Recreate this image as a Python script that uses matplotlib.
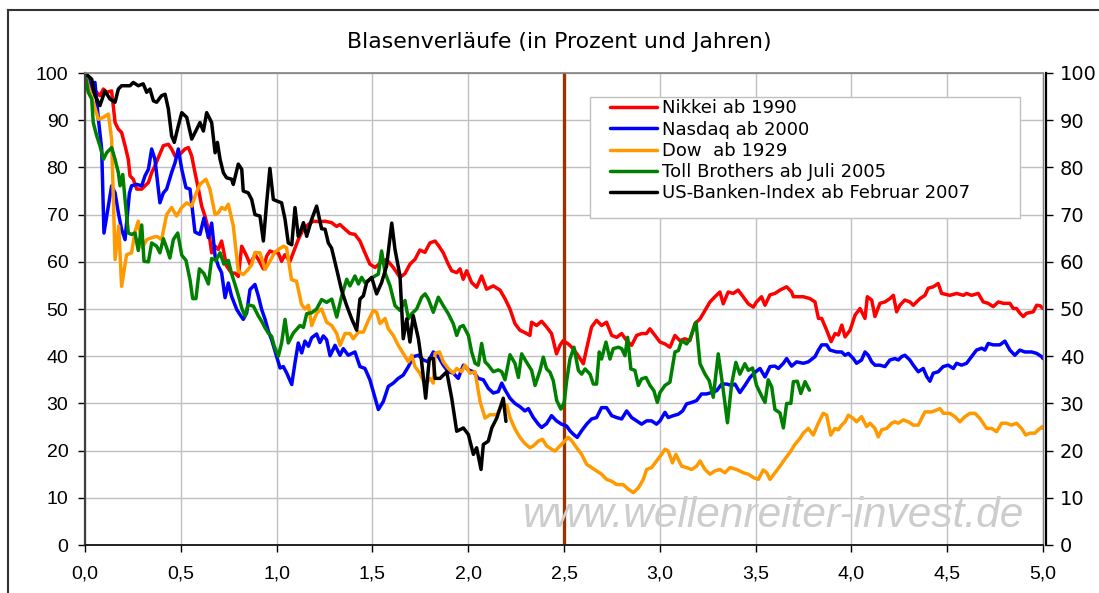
import matplotlib
matplotlib.use("Agg")
import matplotlib.pyplot as plt
from matplotlib.patches import Rectangle
from matplotlib.lines import Line2D
from matplotlib.ticker import FuncFormatter

# ---------------- data (years since peak, percent of peak) ----------------
nikkei_x = [0.000, 0.026, 0.061, 0.078, 0.096, 0.113, 0.139, 0.157, 0.174, 0.191, 0.209, 0.226, 0.235, 0.252, 0.270,
            0.296, 0.313, 0.331, 0.348, 0.365, 0.383, 0.409, 0.435, 0.452, 0.470, 0.496, 0.522, 0.540, 0.557, 0.574,
            0.592, 0.609, 0.626, 0.644, 0.661, 0.679, 0.696, 0.713, 0.739, 0.765, 0.783, 0.800, 0.818, 0.844, 0.861,
            0.887, 0.905, 0.931, 0.948, 0.965, 0.983, 1.009, 1.026, 1.043, 1.070, 1.087, 1.113, 1.139, 1.165, 1.192,
            1.226, 1.252, 1.287, 1.313, 1.331, 1.357, 1.383, 1.409, 1.435, 1.461, 1.487, 1.514, 1.548, 1.574, 1.609,
            1.644, 1.670, 1.696, 1.722, 1.748, 1.774, 1.800, 1.827, 1.844, 1.870, 1.896, 1.914, 1.940, 1.957, 1.974,
            1.992, 2.018, 2.044, 2.070, 2.096, 2.131, 2.166, 2.192, 2.218, 2.244, 2.270, 2.296, 2.322, 2.331, 2.357,
            2.383, 2.409, 2.435, 2.461, 2.479, 2.496, 2.522, 2.548, 2.574, 2.601, 2.618, 2.644, 2.670, 2.696, 2.722,
            2.749, 2.775, 2.801, 2.827, 2.853, 2.879, 2.905, 2.931, 2.948, 2.975, 3.001, 3.027, 3.053, 3.079, 3.105,
            3.131, 3.157, 3.183, 3.210, 3.236, 3.262, 3.288, 3.314, 3.331, 3.357, 3.383, 3.409, 3.435, 3.462, 3.488,
            3.505, 3.531, 3.549, 3.575, 3.601, 3.627, 3.662, 3.688, 3.697, 3.749, 3.784, 3.810, 3.828, 3.845, 3.871,
            3.894, 3.915, 3.932, 3.950, 3.967, 3.993, 4.019, 4.045, 4.071, 4.083, 4.106, 4.123, 4.149, 4.175, 4.201,
            4.219, 4.236, 4.253, 4.279, 4.305, 4.323, 4.358, 4.384, 4.401, 4.427, 4.453, 4.471, 4.514, 4.549, 4.584,
            4.601, 4.627, 4.662, 4.688, 4.714, 4.740, 4.767, 4.793, 4.827, 4.845, 4.862, 4.880, 4.897, 4.914, 4.949,
            4.967, 4.984, 5.000]
nikkei_y = [100.0, 97.3, 95.9, 95.2, 96.6, 95.9, 96.2, 89.5, 88.1, 87.4, 84.6, 81.7, 78.2, 77.5, 75.4,
            75.4, 76.1, 76.8, 78.9, 80.3, 82.1, 84.6, 84.9, 83.9, 82.4, 82.8, 83.9, 84.2, 82.4, 78.9,
            75.4, 71.8, 69.7, 66.9, 61.9, 63.3, 62.6, 64.4, 59.1, 57.6, 57.6, 56.9, 63.3, 61.2, 59.5,
            61.5, 60.5, 58.5, 61.2, 62.3, 62.0, 61.9, 60.1, 61.5, 60.1, 61.9, 64.7, 66.9, 67.9, 68.6,
            68.5, 68.6, 68.3, 67.5, 67.9, 66.9, 66.0, 65.8, 64.4, 61.9, 59.5, 58.8, 60.0, 60.5, 58.8,
            56.7, 57.5, 59.5, 60.5, 62.5, 62.0, 64.0, 64.4, 63.5, 61.9, 59.5, 58.1, 57.7, 58.5, 56.3,
            58.1, 55.6, 54.6, 57.0, 54.2, 54.9, 54.0, 52.2, 50.0, 46.9, 45.5, 45.0, 44.4, 47.2, 46.5,
            47.4, 46.2, 44.8, 40.5, 42.3, 43.3, 42.6, 41.6, 40.1, 38.4, 41.6, 46.2, 47.6, 46.5, 47.2,
            44.4, 44.0, 44.8, 43.3, 42.3, 44.4, 44.8, 44.8, 45.8, 44.4, 43.0, 42.6, 41.9, 44.4, 43.3,
            43.7, 43.3, 46.9, 47.9, 49.7, 51.5, 52.6, 53.6, 51.1, 53.6, 53.3, 54.0, 52.6, 51.1, 50.4,
            51.5, 52.6, 50.8, 53.0, 53.3, 54.0, 54.7, 53.6, 52.6, 52.6, 52.2, 51.5, 48.0, 48.0, 45.5,
            43.1, 44.8, 44.5, 46.6, 44.1, 45.5, 48.7, 50.1, 48.0, 52.6, 51.9, 48.4, 51.2, 51.5, 52.2,
            52.9, 49.4, 50.8, 51.9, 51.5, 50.8, 52.2, 52.9, 54.4, 54.7, 55.4, 53.3, 52.9, 53.3, 52.9,
            53.3, 52.9, 53.3, 51.5, 51.2, 50.5, 51.5, 51.2, 51.2, 50.1, 50.1, 49.1, 48.4, 49.1, 49.4,
            50.8, 50.7, 50.1]

nasdaq_x = [0.000, 0.017, 0.035, 0.052, 0.070, 0.087, 0.099, 0.122, 0.139, 0.157, 0.174, 0.191, 0.209, 0.232, 0.243,
            0.270, 0.296, 0.313, 0.331, 0.348, 0.365, 0.391, 0.409, 0.426, 0.452, 0.470, 0.487, 0.505, 0.527, 0.548,
            0.574, 0.600, 0.621, 0.644, 0.661, 0.679, 0.696, 0.713, 0.731, 0.748, 0.765, 0.792, 0.809, 0.826, 0.844,
            0.861, 0.887, 0.905, 0.922, 0.940, 0.957, 0.974, 1.000, 1.018, 1.035, 1.052, 1.079, 1.096, 1.113, 1.131,
            1.148, 1.166, 1.183, 1.209, 1.226, 1.244, 1.261, 1.279, 1.305, 1.331, 1.348, 1.374, 1.409, 1.435, 1.461,
            1.487, 1.514, 1.531, 1.557, 1.583, 1.609, 1.635, 1.661, 1.688, 1.713, 1.740, 1.766, 1.792, 1.818, 1.844,
            1.870, 1.896, 1.922, 1.948, 1.975, 2.001, 2.027, 2.053, 2.079, 2.105, 2.131, 2.157, 2.175, 2.192, 2.218,
            2.244, 2.270, 2.296, 2.314, 2.340, 2.366, 2.383, 2.409, 2.435, 2.461, 2.487, 2.514, 2.531, 2.548, 2.569,
            2.592, 2.618, 2.644, 2.670, 2.696, 2.722, 2.749, 2.775, 2.801, 2.827, 2.853, 2.879, 2.905, 2.931, 2.957,
            2.983, 3.001, 3.027, 3.044, 3.070, 3.096, 3.119, 3.140, 3.166, 3.192, 3.218, 3.244, 3.270, 3.297, 3.323,
            3.349, 3.375, 3.392, 3.418, 3.444, 3.471, 3.497, 3.523, 3.549, 3.575, 3.601, 3.619, 3.645, 3.662, 3.688,
            3.714, 3.749, 3.775, 3.810, 3.828, 3.845, 3.871, 3.888, 3.923, 3.949, 3.967, 3.984, 4.010, 4.027, 4.053,
            4.071, 4.088, 4.106, 4.123, 4.149, 4.175, 4.201, 4.227, 4.245, 4.262, 4.279, 4.305, 4.323, 4.349, 4.375,
            4.393, 4.410, 4.427, 4.453, 4.479, 4.505, 4.532, 4.549, 4.575, 4.601, 4.627, 4.653, 4.680, 4.697, 4.714,
            4.740, 4.775, 4.801, 4.827, 4.853, 4.879, 4.905, 4.940, 4.967, 4.993, 5.000]
nasdaq_y = [100.0, 98.7, 95.9, 98.0, 90.2, 83.9, 66.1, 71.8, 76.1, 74.6, 70.4, 66.9, 64.7, 74.6, 76.1,
            76.4, 76.1, 78.2, 79.6, 83.9, 81.7, 72.5, 74.6, 75.4, 78.9, 81.0, 83.9, 79.6, 75.7, 75.4,
            66.3, 65.8, 69.3, 65.1, 68.2, 61.2, 59.1, 57.7, 52.4, 55.5, 52.7, 49.9, 48.8, 47.8, 49.2,
            54.1, 55.2, 52.7, 49.9, 47.8, 45.3, 43.5, 40.0, 37.5, 37.8, 36.5, 34.0, 38.6, 42.8, 40.7,
            43.2, 42.1, 43.9, 44.7, 42.9, 44.3, 43.5, 40.1, 42.3, 40.2, 41.6, 40.2, 40.9, 37.8, 37.4,
            35.0, 31.1, 28.7, 30.4, 33.6, 34.3, 35.3, 36.0, 37.8, 39.9, 40.2, 39.2, 38.8, 40.9, 39.9,
            38.1, 36.7, 36.4, 35.3, 38.1, 37.1, 36.7, 35.3, 35.0, 33.2, 32.2, 32.5, 34.3, 32.9, 31.1,
            30.0, 29.3, 28.4, 28.9, 27.0, 25.6, 24.9, 25.7, 27.4, 26.3, 25.6, 25.2, 24.2, 23.5, 22.8,
            24.2, 25.6, 26.7, 27.0, 29.1, 29.1, 27.4, 27.0, 26.7, 28.4, 27.0, 26.3, 25.6, 26.3, 26.3,
            25.6, 26.3, 28.1, 27.0, 27.4, 27.7, 28.4, 29.9, 30.2, 30.6, 32.0, 32.0, 32.3, 32.7, 34.1,
            34.1, 33.8, 34.1, 32.3, 33.8, 35.5, 36.6, 37.4, 35.6, 37.8, 37.9, 37.4, 38.5, 39.5, 37.9,
            38.8, 38.5, 38.8, 39.9, 41.3, 42.4, 42.4, 41.3, 40.9, 40.9, 40.2, 40.6, 39.5, 38.5, 39.2,
            40.9, 40.2, 38.8, 38.1, 38.1, 37.8, 39.2, 39.5, 39.2, 39.9, 40.2, 39.2, 38.1, 36.7, 37.4,
            35.7, 34.7, 36.4, 36.7, 37.8, 38.1, 37.4, 38.5, 38.1, 38.5, 39.9, 41.3, 41.7, 41.3, 42.7,
            42.4, 42.4, 43.2, 41.3, 40.2, 41.3, 40.9, 40.9, 40.6, 39.9, 39.5]

dow_x = [0.000, 0.017, 0.043, 0.070, 0.096, 0.122, 0.139, 0.157, 0.176, 0.191, 0.217, 0.243, 0.261, 0.278, 0.300,
         0.322, 0.348, 0.374, 0.400, 0.426, 0.452, 0.478, 0.505, 0.531, 0.557, 0.574, 0.600, 0.631, 0.652, 0.679,
         0.696, 0.713, 0.731, 0.748, 0.774, 0.800, 0.826, 0.852, 0.870, 0.887, 0.913, 0.940, 0.965, 0.990, 1.009,
         1.035, 1.052, 1.078, 1.104, 1.130, 1.148, 1.166, 1.183, 1.209, 1.235, 1.261, 1.288, 1.314, 1.331, 1.357,
         1.383, 1.400, 1.427, 1.453, 1.479, 1.505, 1.522, 1.540, 1.566, 1.583, 1.609, 1.635, 1.661, 1.688, 1.705,
         1.722, 1.748, 1.775, 1.801, 1.818, 1.827, 1.850, 1.870, 1.896, 1.922, 1.940, 1.966, 1.983, 2.009, 2.036,
         2.062, 2.088, 2.114, 2.149, 2.175, 2.201, 2.218, 2.244, 2.270, 2.296, 2.322, 2.340, 2.366, 2.388, 2.409,
         2.435, 2.453, 2.479, 2.496, 2.522, 2.540, 2.566, 2.592, 2.618, 2.644, 2.670, 2.696, 2.722, 2.749, 2.775,
         2.809, 2.836, 2.862, 2.888, 2.914, 2.931, 2.957, 2.983, 3.009, 3.027, 3.044, 3.066, 3.084, 3.114, 3.140,
         3.166, 3.192, 3.210, 3.236, 3.262, 3.288, 3.314, 3.340, 3.366, 3.401, 3.436, 3.462, 3.488, 3.514, 3.540,
         3.558, 3.575, 3.601, 3.627, 3.653, 3.679, 3.705, 3.730, 3.749, 3.775, 3.801, 3.827, 3.853, 3.871, 3.892,
         3.914, 3.932, 3.949, 3.967, 3.984, 4.010, 4.027, 4.053, 4.079, 4.097, 4.123, 4.140, 4.158, 4.184, 4.210,
         4.227, 4.245, 4.271, 4.297, 4.323, 4.349, 4.366, 4.384, 4.419, 4.445, 4.462, 4.480, 4.514, 4.540, 4.566,
         4.593, 4.619, 4.645, 4.671, 4.688, 4.706, 4.732, 4.758, 4.784, 4.810, 4.836, 4.862, 4.888, 4.910, 4.932,
         4.958, 4.975, 4.997, 5.000]
dow_y = [100.0, 97.3, 93.8, 90.2, 90.6, 91.3, 86.0, 60.5, 67.6, 54.8, 61.5, 61.9, 66.4, 68.6, 63.0,
         64.7, 65.1, 65.4, 64.7, 70.0, 71.5, 69.7, 71.5, 72.5, 71.8, 73.9, 76.4, 77.5, 75.4, 70.0,
         70.4, 71.5, 71.1, 72.2, 67.6, 58.0, 57.3, 58.4, 59.4, 62.0, 61.9, 58.4, 60.1, 62.0, 62.6,
         63.3, 63.0, 56.2, 55.9, 51.0, 50.0, 50.8, 46.5, 49.1, 50.0, 47.2, 46.5, 44.8, 42.3, 44.8,
         44.8, 43.7, 45.1, 45.1, 47.6, 49.7, 49.3, 46.9, 48.0, 45.8, 44.4, 42.3, 40.6, 38.8, 40.2,
         37.8, 36.4, 33.9, 35.3, 34.3, 40.6, 40.9, 38.8, 37.4, 36.4, 37.4, 36.7, 38.1, 36.4, 36.7,
         30.4, 26.9, 27.6, 27.6, 29.5, 29.7, 27.0, 24.6, 22.8, 21.5, 20.6, 21.0, 22.0, 22.4, 21.0,
         20.3, 19.9, 21.0, 21.7, 22.8, 22.1, 20.6, 19.2, 17.1, 16.4, 15.7, 15.0, 13.9, 13.5, 12.8,
         12.8, 11.8, 11.1, 12.1, 13.9, 16.0, 16.4, 17.8, 19.2, 20.3, 19.9, 17.4, 19.2, 16.7, 16.4,
         16.0, 16.7, 17.8, 16.0, 15.0, 15.7, 16.0, 15.3, 16.4, 16.0, 15.3, 15.0, 14.3, 13.9, 15.9,
         15.3, 13.9, 15.3, 16.7, 18.2, 19.6, 21.3, 22.5, 23.7, 24.7, 23.3, 25.8, 27.9, 27.5, 23.3,
         24.7, 24.4, 25.4, 26.1, 27.5, 26.8, 26.1, 27.2, 25.1, 25.8, 24.7, 22.9, 24.4, 24.7, 25.8,
         26.1, 25.8, 26.5, 26.1, 25.4, 25.4, 26.8, 28.2, 28.2, 28.6, 28.9, 27.9, 27.9, 27.2, 26.1,
         27.2, 27.9, 27.9, 26.8, 25.8, 24.7, 24.7, 24.0, 25.8, 25.8, 25.4, 25.8, 24.7, 23.3, 23.7,
         23.7, 24.4, 25.1, 24.7]

toll_x = [0.000, 0.017, 0.035, 0.043, 0.061, 0.078, 0.096, 0.113, 0.139, 0.157, 0.174, 0.183, 0.197, 0.209, 0.226,
          0.243, 0.261, 0.278, 0.296, 0.308, 0.331, 0.348, 0.374, 0.391, 0.409, 0.426, 0.443, 0.461, 0.484, 0.505,
          0.527, 0.548, 0.562, 0.579, 0.597, 0.621, 0.644, 0.661, 0.683, 0.705, 0.725, 0.748, 0.765, 0.783, 0.800,
          0.818, 0.835, 0.852, 0.879, 0.905, 0.922, 0.940, 0.957, 0.974, 0.988, 1.009, 1.026, 1.044, 1.061, 1.087,
          1.122, 1.140, 1.157, 1.183, 1.209, 1.235, 1.261, 1.288, 1.314, 1.340, 1.366, 1.383, 1.409, 1.427, 1.444,
          1.461, 1.487, 1.514, 1.531, 1.548, 1.566, 1.592, 1.618, 1.644, 1.670, 1.688, 1.705, 1.731, 1.757, 1.775,
          1.792, 1.818, 1.844, 1.870, 1.896, 1.922, 1.940, 1.957, 1.974, 2.001, 2.018, 2.036, 2.053, 2.070, 2.088,
          2.105, 2.131, 2.157, 2.175, 2.192, 2.218, 2.244, 2.262, 2.279, 2.305, 2.331, 2.349, 2.375, 2.392, 2.409,
          2.427, 2.444, 2.462, 2.484, 2.501, 2.514, 2.531, 2.552, 2.575, 2.592, 2.610, 2.636, 2.653, 2.670, 2.684,
          2.696, 2.719, 2.740, 2.757, 2.784, 2.801, 2.818, 2.832, 2.849, 2.870, 2.888, 2.905, 2.928, 2.949, 2.969,
          2.987, 3.001, 3.027, 3.053, 3.079, 3.097, 3.114, 3.140, 3.158, 3.189, 3.210, 3.236, 3.258, 3.279, 3.305,
          3.328, 3.353, 3.375, 3.397, 3.418, 3.444, 3.462, 3.484, 3.505, 3.531, 3.549, 3.566, 3.584, 3.601, 3.627,
          3.645, 3.662, 3.684, 3.697, 3.718, 3.736, 3.758, 3.781]
toll_y = [100.0, 95.9, 94.5, 89.5, 86.7, 84.6, 81.7, 83.1, 84.2, 81.7, 78.9, 76.1, 78.5, 73.2, 66.1,
          65.8, 66.1, 62.4, 67.8, 60.1, 60.0, 64.0, 63.3, 61.9, 64.9, 63.0, 60.8, 64.7, 66.1, 61.4,
          60.3, 56.2, 52.2, 52.2, 58.5, 57.5, 55.3, 60.7, 60.3, 61.9, 59.5, 60.3, 57.5, 55.2, 52.9,
          50.2, 48.5, 50.9, 50.6, 48.5, 47.4, 46.0, 44.9, 44.2, 42.1, 40.0, 42.8, 47.8, 42.8, 44.9,
          46.5, 46.1, 49.0, 49.2, 50.0, 52.0, 51.4, 52.1, 48.3, 52.8, 56.3, 54.9, 57.0, 55.3, 56.7,
          55.6, 56.3, 57.0, 57.4, 62.3, 57.7, 54.9, 50.7, 49.7, 51.8, 47.9, 49.0, 50.0, 52.5, 53.2,
          52.1, 49.3, 52.5, 50.7, 49.0, 46.9, 44.4, 46.2, 46.5, 44.4, 40.9, 38.5, 38.1, 42.7, 38.8,
          38.1, 36.7, 37.1, 36.7, 35.0, 40.3, 38.5, 35.5, 40.5, 38.7, 37.0, 33.8, 37.0, 39.8, 37.3,
          36.6, 34.8, 30.6, 28.8, 30.2, 34.8, 39.4, 41.9, 37.0, 36.2, 37.3, 36.2, 34.1, 34.1, 40.9,
          39.4, 43.0, 39.4, 41.6, 41.9, 41.6, 40.1, 44.0, 37.3, 37.0, 33.8, 35.2, 35.5, 33.8, 32.7,
          30.2, 32.3, 33.8, 34.5, 40.9, 41.2, 43.3, 42.6, 43.7, 47.2, 38.4, 36.2, 34.8, 31.3, 40.5,
          33.8, 25.9, 34.1, 38.7, 36.2, 38.4, 37.0, 37.5, 33.8, 31.6, 30.2, 35.0, 33.5, 28.7, 28.0,
          24.8, 30.0, 30.0, 34.6, 34.7, 32.1, 34.6, 32.8]

banks_x = [0.000, 0.035, 0.052, 0.078, 0.104, 0.130, 0.157, 0.174, 0.191, 0.235, 0.252, 0.278, 0.304, 0.322, 0.339,
           0.357, 0.374, 0.400, 0.418, 0.435, 0.452, 0.466, 0.487, 0.505, 0.531, 0.557, 0.583, 0.600, 0.618, 0.635,
           0.661, 0.679, 0.691, 0.705, 0.722, 0.739, 0.765, 0.774, 0.800, 0.818, 0.826, 0.852, 0.870, 0.887, 0.913,
           0.931, 0.948, 0.965, 0.983, 1.000, 1.026, 1.044, 1.061, 1.079, 1.096, 1.113, 1.122, 1.140, 1.157, 1.183,
           1.209, 1.235, 1.253, 1.270, 1.287, 1.313, 1.339, 1.366, 1.392, 1.418, 1.435, 1.453, 1.470, 1.496, 1.522,
           1.548, 1.574, 1.601, 1.618, 1.644, 1.661, 1.679, 1.696, 1.713, 1.740, 1.757, 1.778, 1.797, 1.818, 1.827,
           1.853, 1.888, 1.914, 1.940, 1.975, 2.001, 2.027, 2.044, 2.067, 2.079, 2.105, 2.123, 2.149, 2.183, 2.197]
banks_y = [100.0, 98.7, 95.2, 93.1, 96.2, 94.5, 93.8, 96.6, 97.3, 97.3, 98.0, 97.3, 97.7, 95.9, 96.6,
           94.1, 93.8, 95.2, 95.5, 92.4, 86.7, 85.3, 88.8, 91.6, 90.6, 86.0, 88.1, 89.5, 87.7, 91.6,
           89.5, 83.1, 85.3, 81.7, 78.9, 77.8, 77.5, 76.4, 80.7, 79.6, 75.0, 74.6, 73.2, 70.0, 69.7,
           64.4, 72.5, 79.8, 73.2, 72.9, 72.5, 69.0, 64.0, 63.6, 71.5, 65.4, 66.1, 68.3, 65.4, 69.0,
           71.8, 67.0, 66.9, 64.0, 62.9, 58.5, 54.0, 50.7, 47.9, 45.5, 52.1, 52.8, 55.6, 56.7, 53.2,
           55.6, 59.1, 68.2, 62.6, 57.0, 43.7, 47.9, 43.0, 48.6, 43.7, 38.8, 31.1, 39.5, 39.5, 35.3,
           35.3, 36.7, 31.1, 24.1, 24.8, 23.4, 19.2, 20.6, 16.0, 21.3, 22.0, 24.8, 26.9, 31.1, 26.2]

series_labels = ["Nikkei ab 1990", "Nasdaq ab 2000", "Dow  ab 1929",
                 "Toll Brothers ab Juli 2005", "US-Banken-Index ab Februar 2007"]
series_colors = ["#ff0000", "#0000ff", "#ff9900", "#008000", "#000000"]
marker_year = 2.5
y_ticks = list(range(0, 101, 10))
x_ticks = [0.0, 0.5, 1.0, 1.5, 2.0, 2.5, 3.0, 3.5, 4.0, 4.5, 5.0]
title_text = "Blasenverläufe (in Prozent und Jahren)"
watermark = "www.wellenreiter-invest.de"

# ---------------- figure ----------------
W, H = 1099, 593
fig = plt.figure(figsize=(W / 100, H / 100), dpi=100)
fig.patch.set_facecolor("white")
ax = fig.add_axes([85 / W, 1 - 545 / H, (1043 - 85) / W, (545 - 73) / H])

ax.set_xlim(0, 5.0)
ax.set_ylim(0, 100)
ax.set_xticks(x_ticks)
ax.set_yticks(y_ticks)
ax.xaxis.set_major_formatter(FuncFormatter(lambda v, p: f"{v:.1f}".replace(".", ",")))
ax.grid(True, color="#c0c0c0", linewidth=1.0, zorder=0)
ax.set_axisbelow(True)

ax.tick_params(axis="y", direction="out", length=5, width=1.0, pad=7, labelsize=14, colors="black")
ax.tick_params(axis="x", direction="out", length=5, width=1.0, pad=10, labelsize=14, colors="black")
for lab in ax.get_xticklabels() + ax.get_yticklabels():
    lab.set_family("Liberation Sans")

ax.spines["top"].set_color("#808080")
ax.spines["top"].set_linewidth(1.2)
ax.spines["left"].set_color("#404040")
ax.spines["left"].set_linewidth(1.6)
ax.spines["bottom"].set_color("#202020")
ax.spines["bottom"].set_linewidth(1.4)
ax.spines["right"].set_color("#808080")
ax.spines["right"].set_linewidth(1.0)

ax2 = ax.twinx()
ax2.set_ylim(0, 100)
ax2.set_yticks(y_ticks)
ax2.tick_params(axis="y", direction="out", length=5, width=1.0, pad=5, labelsize=14, colors="black")
for lab in ax2.get_yticklabels():
    lab.set_family("Liberation Sans")
ax2.spines["right"].set_color("black")
ax2.spines["right"].set_linewidth(1.6)
ax2.spines["right"].set_position(("outward", 2))
for s in ["top", "left", "bottom"]:
    ax2.spines[s].set_visible(False)

# marker line at 2.5 years
ax.axvline(marker_year, color="#993300", linewidth=2.4, zorder=1.5)

all_x = [nikkei_x, nasdaq_x, dow_x, toll_x, banks_x]
all_y = [nikkei_y, nasdaq_y, dow_y, toll_y, banks_y]
handles = []
for i, (xs, ys, lab, col) in enumerate(zip(all_x, all_y, series_labels, series_colors)):
    h, = ax.plot(xs, ys, color=col, linewidth=2.5, label=lab, zorder=2 + i * 0.1,
                 solid_joinstyle="round", solid_capstyle="round")
    handles.append(h)

# legend box
frame = Rectangle((0.527, 0.693), 0.449, 0.256, transform=ax.transAxes,
                  facecolor="white", edgecolor="#c0c0c0", linewidth=1.0, zorder=4)
ax.add_patch(frame)
leg = ax.legend(handles=handles, loc="upper left", bbox_to_anchor=(0.548, 0.944),
                frameon=False, prop=dict(family="DejaVu Sans", size=13),
                handlelength=2.6, handletextpad=0.3, labelspacing=0.18, borderpad=0.0,
                borderaxespad=0.0)
leg.set_zorder(5)

# title
fig.text(559 / W, 1 - 42 / H, title_text, ha="center", va="center",
         family="DejaVu Sans", fontsize=15.8, color="black")

# watermark
fig.text(774 / W, 1 - 516 / H, watermark, ha="center", va="center", style="italic",
         family="Liberation Sans", fontsize=30.5, color="#cdcdcd", zorder=1)

# outer chart frame
fig.add_artist(Line2D([8 / W, 8 / W], [0, 1 - 10 / H], transform=fig.transFigure, color="#333333", linewidth=1.5))
fig.add_artist(Line2D([8 / W, 1], [1 - 10 / H, 1 - 10 / H], transform=fig.transFigure, color="#333333", linewidth=1.5))

fig.savefig("out.png", dpi=100, facecolor="white")
